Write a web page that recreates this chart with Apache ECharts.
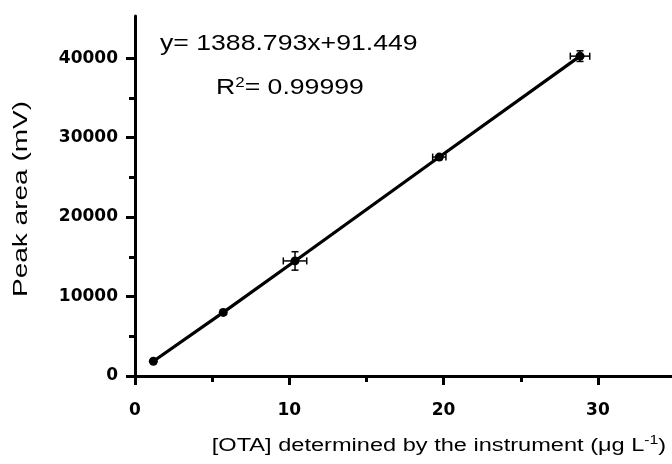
<!DOCTYPE html>
<html>
<head>
<meta charset="utf-8">
<script src="https://cdn.jsdelivr.net/npm/echarts@6/dist/echarts.min.js"></script>
<style>
  html, body { margin: 0; padding: 0; background: #fff; }
  #chart { width: 672px; height: 464px; }
</style>
</head>
<body>
<div id="chart"></div>
<script>
// ---- data ----
const xValues = [1.19, 5.72, 10.37, 19.72, 28.84];
const yValues = [1850, 8000, 14480, 27550, 40250];
const xErrors = [0, 0.15, 0.76, 0.43, 0.63];
const yErrors = [0, 150, 1160, 250, 670];

const xMajorTicks = [0, 10, 20, 30];
const xMinorTicks = [5, 15, 25];
const yMajorTicks = [0, 10000, 20000, 30000, 40000];
const yMinorTicks = [5000, 15000, 25000, 35000];

const equationText = 'y= 1388.793x+91.449';
const r2Label = 'R';
const r2Sup = '2';
const r2Value = '= 0.99999';
const xTitle = '[OTA] determined by the instrument (\u03bcg L';
const xTitleSup = '-1';
const yTitle = 'Peak area (mV)';

// ---- chart ----
const FONT = '"Liberation Sans", Arial, Helvetica, sans-serif';
const chart = echarts.init(document.getElementById('chart'), null, { renderer: 'canvas' });

const pointData = xValues.map((x, i) => [x, yValues[i]]);
const errData = xValues.map((x, i) => [x, yValues[i], xErrors[i], yErrors[i]]);

const axisLineStyle = { color: '#000', width: 3 };
const tickLabelStyle = {
  color: '#000', fontWeight: 'bold', fontSize: 17,
  fontFamily: '"DejaVu Sans", sans-serif',
  formatter: function (v) { return String(v); }
};

const option = {
  animation: false,
  backgroundColor: '#fff',
  grid: { left: 135, right: 0, top: 16, bottom: 88, containLabel: false },
  xAxis: [
    {
      type: 'value', min: 0, max: 34.8, position: 'bottom',
      axisLine: { show: true, onZero: false, lineStyle: axisLineStyle },
      axisTick: { show: true, customValues: xMajorTicks, length: 9, lineStyle: { color: '#000', width: 3 } },
      axisLabel: Object.assign({ show: true, customValues: xMajorTicks, margin: 26 }, tickLabelStyle),
      splitLine: { show: false }
    },
    {
      type: 'value', min: 0, max: 34.8, position: 'bottom',
      axisLine: { show: false, onZero: false },
      axisTick: { show: true, customValues: xMinorTicks, length: 6, lineStyle: { color: '#000', width: 3 } },
      axisLabel: { show: false },
      splitLine: { show: false }
    }
  ],
  yAxis: [
    {
      type: 'value', min: 0, max: 45300, position: 'left',
      axisLine: { show: true, onZero: false, lineStyle: axisLineStyle },
      axisTick: { show: true, customValues: yMajorTicks, length: 9, lineStyle: { color: '#000', width: 3 } },
      axisLabel: Object.assign({ show: true, customValues: yMajorTicks, margin: 17 }, tickLabelStyle),
      splitLine: { show: false }
    },
    {
      type: 'value', min: 0, max: 45300, position: 'left',
      axisLine: { show: false, onZero: false },
      axisTick: { show: true, customValues: yMinorTicks, length: 6, lineStyle: { color: '#000', width: 3 } },
      axisLabel: { show: false },
      splitLine: { show: false }
    }
  ],
  series: [
    {
      type: 'line', xAxisIndex: 0, yAxisIndex: 0,
      data: pointData,
      symbol: 'circle', symbolSize: 9,
      itemStyle: { color: '#000' },
      lineStyle: { color: '#000', width: 3.2 },
      z: 3
    },
    {
      type: 'custom', xAxisIndex: 0, yAxisIndex: 0,
      data: errData,
      encode: { x: 0, y: 1 },
      z: 4,
      renderItem: function (params, api) {
        const x = api.value(0), y = api.value(1), xe = api.value(2), ye = api.value(3);
        const cap = 3.5;
        const style = { stroke: '#000', lineWidth: 1.5 };
        const ch = [];
        if (xe > 0) {
          const l = api.coord([x - xe, y]), r = api.coord([x + xe, y]);
          ch.push({ type: 'line', shape: { x1: l[0], y1: l[1], x2: r[0], y2: r[1] }, style });
          ch.push({ type: 'line', shape: { x1: l[0], y1: l[1] - cap, x2: l[0], y2: l[1] + cap }, style });
          ch.push({ type: 'line', shape: { x1: r[0], y1: r[1] - cap, x2: r[0], y2: r[1] + cap }, style });
        }
        if (ye > 0) {
          const b = api.coord([x, y - ye]), t = api.coord([x, y + ye]);
          ch.push({ type: 'line', shape: { x1: b[0], y1: b[1], x2: t[0], y2: t[1] }, style });
          ch.push({ type: 'line', shape: { x1: b[0] - cap, y1: b[1], x2: b[0] + cap, y2: b[1] }, style });
          ch.push({ type: 'line', shape: { x1: t[0] - cap, y1: t[1], x2: t[0] + cap, y2: t[1] }, style });
        }
        return { type: 'group', children: ch };
      }
    }
  ],
  graphic: [
    {
      type: 'text', x: 160, y: 44, scaleX: 1.21,
      style: {
        text: equationText, fill: '#000', fontSize: 22, fontFamily: FONT,
        textAlign: 'left', textVerticalAlign: 'middle'
      }
    },
    {
      type: 'text', x: 216, y: 88, scaleX: 1.21,
      style: {
        text: '{b|' + r2Label + '}{s|' + r2Sup + '}{b|' + r2Value + '}',
        fill: '#000', fontSize: 22, fontFamily: FONT,
        textAlign: 'left', textVerticalAlign: 'middle',
        rich: {
          b: { fontSize: 22, fontFamily: FONT, fill: '#000', color: '#000', lineHeight: 24 },
          s: { fontSize: 14, fontFamily: FONT, fill: '#000', color: '#000', verticalAlign: 'top', lineHeight: 24, padding: [0, 0, 10, 0] }
        }
      }
    },
    {
      type: 'text', x: 439, y: 446, scaleX: 1.31,
      style: {
        text: '{b|' + xTitle + '}{s|' + xTitleSup + '}{b|)}',
        fill: '#000', fontSize: 18, fontFamily: FONT,
        textAlign: 'center', textVerticalAlign: 'middle',
        rich: {
          b: { fontSize: 18, fontFamily: FONT, fill: '#000', color: '#000', lineHeight: 22 },
          s: { fontSize: 12, fontFamily: FONT, fill: '#000', color: '#000', verticalAlign: 'top', lineHeight: 22, padding: [0, 0, 10, 0] }
        }
      }
    },
    {
      type: 'text', x: 21, y: 199, rotation: Math.PI / 2, scaleX: 1.4,
      style: {
        text: yTitle, fill: '#000', fontSize: 20, fontFamily: FONT,
        textAlign: 'center', textVerticalAlign: 'middle'
      }
    }
  ]
};
chart.setOption(option);
</script>
</body>
</html>
